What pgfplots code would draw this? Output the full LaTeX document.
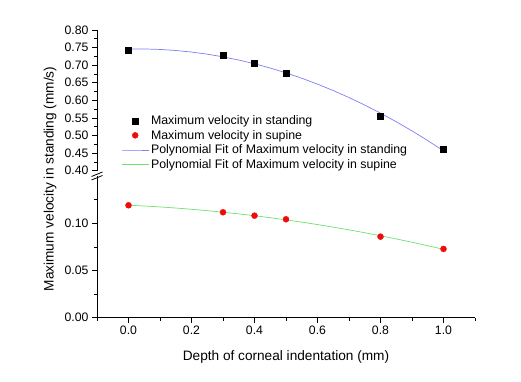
\documentclass[border=0pt]{standalone}
\usepackage{fontspec}
\setmainfont{Liberation Sans}
\usepackage{pgfplots}
\pgfplotsset{compat=1.18}

\definecolor{fitblue}{RGB}{125,125,250}
\definecolor{fitgreen}{RGB}{110,225,110}
\definecolor{ptred}{RGB}{240,10,10}

\pgfplotsset{
  brk/.style={
    scale only axis, width=378bp,
    xmin=-0.1, xmax=1.1,
    tick align=outside, major tick length=5bp, minor tick length=3bp,
    tick style={black, line width=0.6bp},
    axis line style={black, line width=0.8bp},
    tick label style={font=\fontsize{12.3}{14}\selectfont},
    /pgf/number format/assume math mode=true,
    clip=false,
  }
}

\begin{document}
\begin{tikzpicture}
\useasboundingbox (0,0) rectangle (521bp,382bp);

% lower part: supine
\begin{axis}[brk,
    at={(97bp,64.3bp)}, anchor=south west,
    height=141.7bp,
    ymin=0, ymax=0.15,
    axis x line*=bottom, axis y line*=left,
    ytick={0,0.05,0.10}, minor ytick={0.025,0.075,0.125},
    xtick={0,0.2,0.4,0.6,0.8,1.0},
    minor xtick={-0.1,0.1,0.3,0.5,0.7,0.9,1.1},
    yticklabel style={/pgf/number format/.cd, fixed, fixed zerofill, precision=2},
    xticklabel style={/pgf/number format/.cd, fixed, fixed zerofill, precision=1},
    xlabel={Depth of corneal indentation (mm)},
    xlabel style={font=\fontsize{13.7}{16}\selectfont,
      at={(axis description cs:0.5,0)}, anchor=base, yshift=-42.3bp},
  ]
  % polynomial fit, supine
  \addplot[fitgreen, line width=0.7bp] coordinates {
    (0,0.11910) (0.05,0.11826) (0.1,0.11726) (0.15,0.11610) (0.2,0.11478)
    (0.25,0.11331) (0.3,0.11168) (0.35,0.10989) (0.4,0.10795) (0.45,0.10585)
    (0.5,0.10359) (0.55,0.10117) (0.6,0.09860) (0.65,0.09587) (0.7,0.09298)
    (0.75,0.08994) (0.8,0.08674) (0.85,0.08338) (0.9,0.07986) (0.95,0.07619)
    (1.0,0.07236)};
  \addplot[only marks, mark=*, mark size=3bp, ptred] coordinates {
    (0,0.119) (0.3,0.1116) (0.4,0.108) (0.5,0.1042) (0.8,0.0858) (1.0,0.0728)};
\end{axis}

% upper part: standing
\begin{axis}[brk,
    at={(97bp,211.3bp)}, anchor=south west,
    height=140.7bp,
    ymin=0.4, ymax=0.8,
    hide x axis, axis y line*=left,
    ytick={0.40,0.45,0.50,0.55,0.60,0.65,0.70,0.75,0.80},
    minor ytick={0.425,0.475,0.525,0.575,0.625,0.675,0.725,0.775},
    yticklabel style={/pgf/number format/.cd, fixed, fixed zerofill, precision=2},
    legend cell align=left,
    legend style={at={(0.056,0.422)}, anchor=north west, draw=none, fill=none,
      font=\fontsize{12.4}{14}\selectfont, row sep=0.2bp},
    legend image code/.code={
      \draw[mark repeat=2, mark phase=2, #1] plot coordinates {(0bp,0bp) (13.5bp,0bp) (27bp,0bp)};},
  ]
  \addplot[only marks, mark=square*, mark size=3bp, black] coordinates {
    (0,0.743) (0.3,0.729) (0.4,0.707) (0.5,0.677) (0.8,0.554) (1.0,0.462)};
  \addlegendentry{Maximum velocity in standing}
  \addlegendimage{only marks, mark=*, mark size=3bp, ptred}
  \addlegendentry{Maximum velocity in supine}
  % polynomial fit, standing
  \addplot[fitblue, line width=0.7bp] coordinates {
    (0,0.74599) (0.05,0.74613) (0.1,0.74472) (0.15,0.74178) (0.2,0.73731)
    (0.25,0.73129) (0.3,0.72374) (0.35,0.71465) (0.4,0.70402) (0.45,0.69185)
    (0.5,0.67815) (0.55,0.66290) (0.6,0.64612) (0.65,0.62781) (0.7,0.60795)
    (0.75,0.58656) (0.8,0.56362) (0.85,0.53916) (0.9,0.51315) (0.95,0.48560)
    (1.0,0.45652)};
  \addlegendentry{Polynomial Fit of Maximum velocity in standing}
  \addlegendimage{fitgreen, line width=0.7bp}
  \addlegendentry{Polynomial Fit of Maximum velocity in supine}
\end{axis}

% axis break marks
\draw[line width=0.8bp] (91.5bp,205.5bp) -- (102.5bp,210bp);
\draw[line width=0.8bp] (91.5bp,202bp) -- (102.5bp,206.5bp);

\node[rotate=90, font=\fontsize{13.7}{16}\selectfont] at (50bp,203bp)
  {Maximum velocity in standing (mm/s)};
\end{tikzpicture}
\end{document}
